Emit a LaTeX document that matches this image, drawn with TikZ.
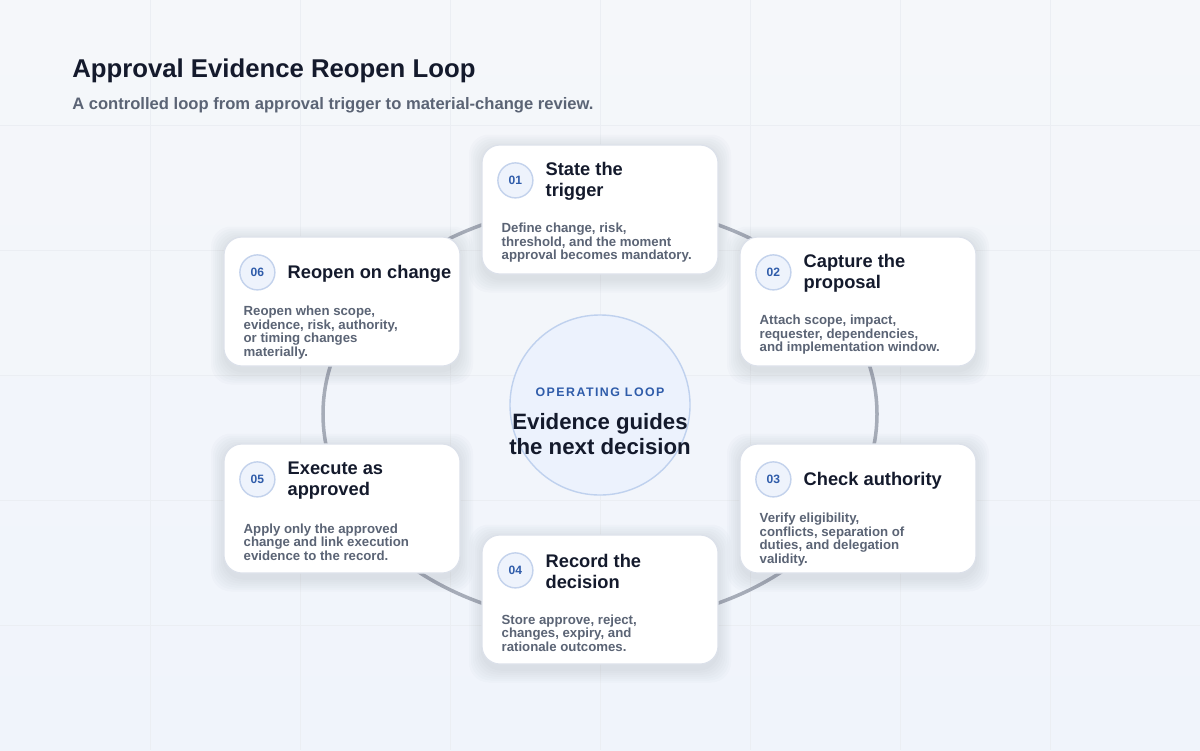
\documentclass[tikz,border=0pt]{standalone}
\usepackage{fontspec}
\setmainfont{Liberation Sans}
\definecolor{bgA}{HTML}{F5F7FA}
\definecolor{bgB}{HTML}{F0F4FB}
\definecolor{gridc}{HTML}{EBEEF3}
\definecolor{ink}{HTML}{141A2C}
\definecolor{muted}{HTML}{5B6475}
\definecolor{cardline}{HTML}{DCE1EA}
\definecolor{ringc}{HTML}{A6ACB8}
\definecolor{numblue}{HTML}{2F5CAA}
\definecolor{numfill}{HTML}{EEF3FC}
\definecolor{numline}{HTML}{C3D2EC}
\definecolor{hubfill}{HTML}{ECF2FD}
\definecolor{hubline}{HTML}{BFD1EE}
\definecolor{shade}{HTML}{2A3550}
\tikzset{card/.style={draw=cardline,fill=white,line width=0.85pt,rounded corners=0.45cm,minimum width=5.9cm,minimum height=3.225cm},haze/.style={fill=shade,fill opacity=0.016,rounded corners=0.5cm},badge/.style={circle,draw=numline,fill=numfill,line width=1pt,minimum size=0.875cm,inner sep=0pt,text=numblue,font=\fontsize{8.6}{10}\selectfont\bfseries},steptitle/.style={inner sep=0pt,align=left,text=ink,font=\fontsize{13}{15.2}\selectfont\bfseries},stepdesc/.style={inner sep=0pt,align=left,text=muted,font=\fontsize{9.4}{9.6}\selectfont\bfseries},gridline/.style={draw=gridc,line width=0.6pt}}

\begin{document}
\begin{tikzpicture}[x=0.025cm,y=-0.025cm,ring/.style={draw=ringc,line width=2.5pt},hub/.style={circle,draw=hubline,fill=hubfill,line width=1pt,minimum size=4.5cm}]
\shade[top color=bgA,bottom color=bgB] (0,0) rectangle (1200,750);
\useasboundingbox (0,0) rectangle (1200,750);
\foreach \gx in {150,300,...,1050}{\draw[gridline] (\gx,0) -- (\gx,750);}
\foreach \gy in {125,250,...,625}{\draw[gridline] (0,\gy) -- (1200,\gy);}
\node[anchor=base west,inner sep=0pt,text=ink,font=\fontsize{18.3}{22}\selectfont\bfseries] (title) at (72,77) {Approval Evidence Reopen Loop};
\node[anchor=base west,inner sep=0pt,text=muted,font=\fontsize{11.8}{14}\selectfont\bfseries] (subtitle) at (72,109) {A controlled loop from approval trigger to material-change review.};
\draw[ring] (600,414) ellipse [x radius=277,y radius=209];
\node[hub] (hub) at (600,405) {};
\node[inner sep=0pt,text=numblue,font=\fontsize{8.8}{10}\selectfont\bfseries\addfontfeature{LetterSpace=12}] (hubk) at (600,392) {OPERATING LOOP};
\node[inner sep=0pt,align=center,text=ink,font=\fontsize{15.8}{18.4}\selectfont\bfseries] (hubt) at (600,434) {Evidence guides\\the next decision};
\foreach \i/\cx/\cy/\t/\dy/\d in {01/600/209.5/{State the\\trigger}/98.5/{Define change, risk,\\threshold, and the moment\\approval becomes mandatory.},02/858/301.5/{Capture the\\proposal}/98.5/{Attach scope, impact,\\requester, dependencies,\\and implementation window.},03/858/508.5/{Check authority}/96/{Verify eligibility,\\conflicts, separation of\\duties, and delegation\\validity.},04/600/599.5/{Record the\\decision}/98.5/{Store approve, reject,\\changes, expiry, and\\rationale outcomes.},05/342/508.5/{Execute as\\approved}/98.5/{Apply only the approved\\change and link execution\\evidence to the record.},06/342/301.5/{Reopen on change}/96/{Reopen when scope,\\evidence, risk, authority,\\or timing changes\\materially.}}{
\foreach \s in {1,3,...,13}{\fill[haze] (\cx-118-\s,\cy-62-\s) rectangle (\cx+118+\s,\cy+70+\s);}
\node[card] (card\i) at (\cx,\cy) {};
\node[badge] (num\i) at ([shift={(34,36)}]card\i.north west) {\i};
\node[steptitle,anchor=west] (ttl\i) at ([shift={(64,37)}]card\i.north west) {\t};
\node[stepdesc,anchor=west] (dsc\i) at ([shift={(20,\dy)}]card\i.north west) {\d};
}
\end{tikzpicture}
\end{document}
